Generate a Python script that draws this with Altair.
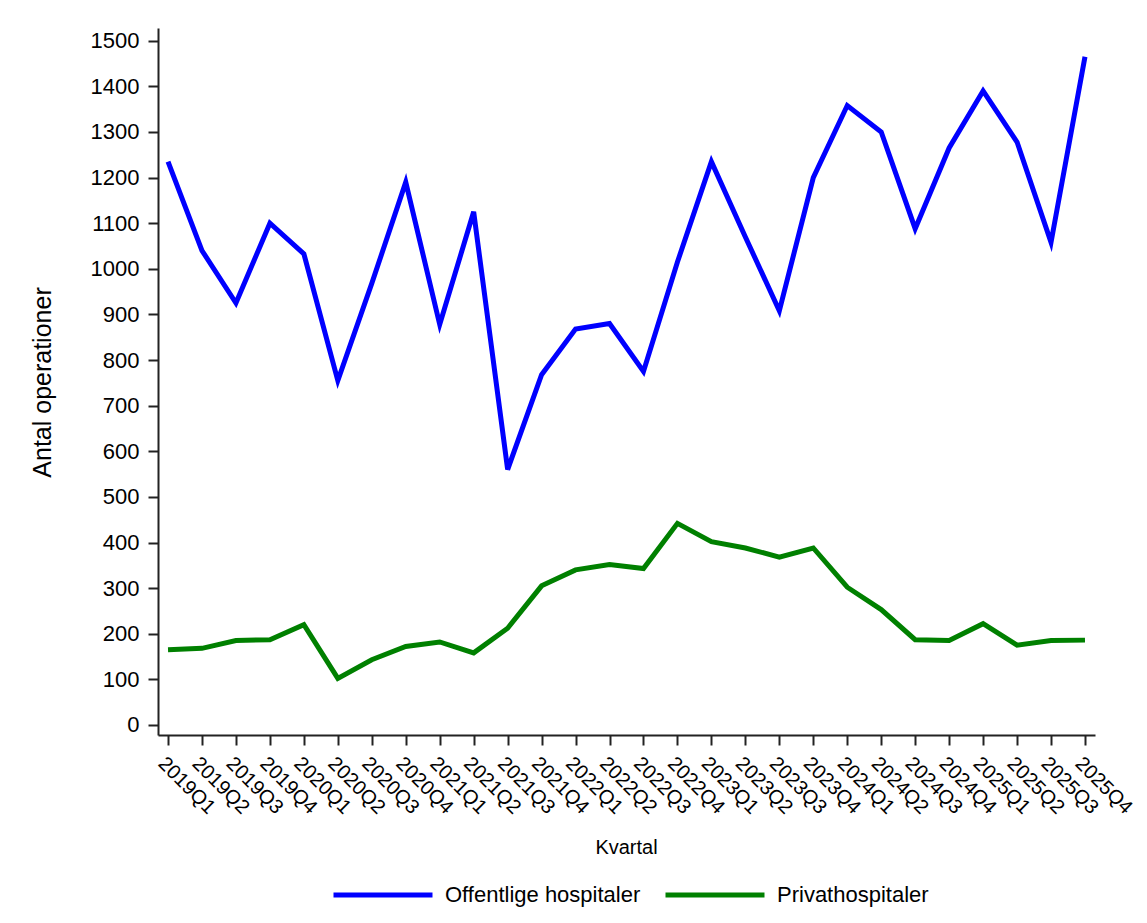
import altair as alt
import pandas as pd

quarters = [
    "2019Q1", "2019Q2", "2019Q3", "2019Q4",
    "2020Q1", "2020Q2", "2020Q3", "2020Q4",
    "2021Q1", "2021Q2", "2021Q3", "2021Q4",
    "2022Q1", "2022Q2", "2022Q3", "2022Q4",
    "2023Q1", "2023Q2", "2023Q3", "2023Q4",
    "2024Q1", "2024Q2", "2024Q3", "2024Q4",
    "2025Q1", "2025Q2", "2025Q3", "2025Q4",
]

offentlige = [
    1235, 1040, 925, 1100,
    1033, 755, 968, 1190,
    878, 1125, 560, 768,
    868, 880, 775, 1015,
    1235, 1070, 908, 1200,
    1358, 1300, 1088, 1265,
    1390, 1278, 1058, 1465,
]

private = [
    165, 168, 185, 187,
    220, 102, 143, 172,
    182, 158, 212, 305,
    340, 352, 343, 442,
    402, 388, 368, 388,
    302, 253, 187, 185,
    222, 175, 185, 186,
]

series_names = ["Offentlige hospitaler", "Privathospitaler"]
series_colors = ["#0000FF", "#008000"]
y_ticks = list(range(0, 1501, 100))

rows = []
for q, v in zip(quarters, offentlige):
    rows.append({"Kvartal": q, "Antal": v, "Serie": series_names[0]})
for q, v in zip(quarters, private):
    rows.append({"Kvartal": q, "Antal": v, "Serie": series_names[1]})
df = pd.DataFrame(rows)

FONT = "Liberation Sans"

chart = (
    alt.Chart(df)
    .mark_line(strokeWidth=5, strokeJoin="miter")
    .encode(
        x=alt.X(
            "Kvartal:N",
            sort=quarters,
            scale=alt.Scale(type="point", padding=0.295),
            axis=alt.Axis(
                title="Kvartal",
                labelAngle=45,
                labelAlign="left",
                labelBaseline="top",
                labelPadding=8,
                labelFontSize=20,
                titleFontSize=20,
                titleFontWeight="normal",
                titleX=468,
                titleY=112,
                titleAlign="center",
                titleBaseline="middle",
            ),
        ),
        y=alt.Y(
            "Antal:Q",
            scale=alt.Scale(domain=[-22, 1528], nice=False, zero=False),
            axis=alt.Axis(
                title="Antal operationer",
                values=y_ticks,
                format="d",
                labelFontSize=22,
                labelPadding=9,
                titleFontSize=25,
                titleFontWeight="normal",
                titleAngle=-90,
                titleX=-116,
                titleY=354,
                titleAlign="center",
                titleBaseline="middle",
            ),
        ),
        color=alt.Color(
            "Serie:N",
            scale=alt.Scale(domain=series_names, range=series_colors),
            legend=alt.Legend(
                title=None,
                orient="none",
                legendX=173,
                legendY=815,
                direction="horizontal",
                symbolType="stroke",
                symbolSize=9800,
                symbolStrokeWidth=5,
                labelFontSize=22,
                labelOffset=10,
                labelLimit=0,
                columnPadding=14,
                labelFont=FONT,
                labelColor="black",
            ),
        ),
    )
    .properties(
        width=937,
        height=707,
        autosize=alt.AutoSizeParams(type="none"),
        padding={"left": 150, "top": 20, "right": 42, "bottom": 182},
    )
    .configure_view(stroke=None)
    .configure_axis(
        grid=False,
        domainColor="#222222",
        domainWidth=2,
        tickColor="#222222",
        tickWidth=2,
        tickSize=10,
        labelColor="black",
        titleColor="black",
        labelFont=FONT,
        titleFont=FONT,
    )
)

chart.save("out.html", embed_options={"renderer": "svg", "actions": False})
